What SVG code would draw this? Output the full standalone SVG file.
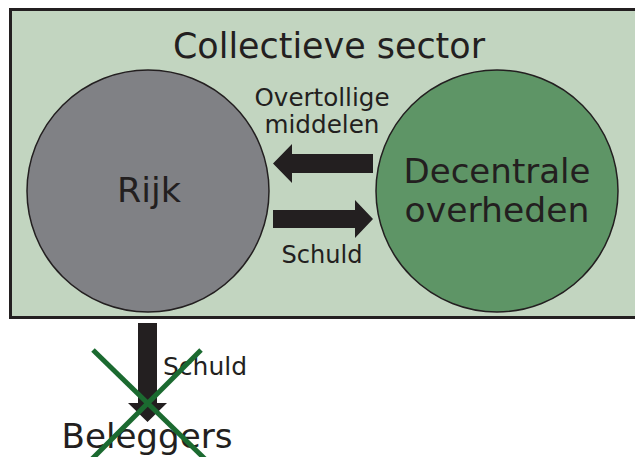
<svg xmlns="http://www.w3.org/2000/svg" width="635" height="457" viewBox="0 0 635 457">
<style>
text{font-family:"DejaVu Sans","Liberation Sans",sans-serif;fill:#231f20}
.big{font-size:34px}
.lbl{font-size:24px}
.circ{stroke:#231f20;stroke-width:1.5}
.arrow{fill:#231f20}
.x{stroke:#1b6a30;stroke-width:5;stroke-linecap:butt}
</style>
<g id="sector">
<rect x="10.5" y="9.5" width="640" height="308" fill="#c2d5c0" stroke="#231f20" stroke-width="3"/>
<text x="329" y="58" font-size="35" text-anchor="middle" textLength="312" lengthAdjust="spacingAndGlyphs">Collectieve sector</text>
</g>
<g id="rijk">
<circle class="circ" cx="148" cy="191" r="121" fill="#808185"/>
<text class="big" x="149" y="202" text-anchor="middle" textLength="64" lengthAdjust="spacingAndGlyphs">Rijk</text>
</g>
<g id="decentrale">
<circle class="circ" cx="497" cy="191" r="121" fill="#5e9566"/>
<text class="big" x="497" y="183" text-anchor="middle" textLength="187" lengthAdjust="spacingAndGlyphs">Decentrale</text>
<text class="big" x="497" y="222" text-anchor="middle" textLength="185" lengthAdjust="spacingAndGlyphs">overheden</text>
</g>
<g id="beleggers">
<text class="big" x="147" y="448" text-anchor="middle" textLength="171" lengthAdjust="spacingAndGlyphs">Beleggers</text>
</g>
<g id="connectors">
<polygon class="arrow" points="373,154 292,154 292,144 273,163.5 292,183 292,173 373,173"/>
<text class="lbl" x="322" y="106" text-anchor="middle" textLength="135" lengthAdjust="spacingAndGlyphs">Overtollige</text>
<text class="lbl" x="322" y="133" text-anchor="middle" textLength="115" lengthAdjust="spacingAndGlyphs">middelen</text>
<polygon class="arrow" points="273,210 355,210 355,200 373,219 355,238 355,228 273,228"/>
<text class="lbl" x="322" y="263" text-anchor="middle" textLength="81" lengthAdjust="spacingAndGlyphs">Schuld</text>
<polygon class="arrow" points="138,323 157,323 157,403 167,403 147.5,422 128,403 138,403"/>
<text class="lbl" x="163" y="375" textLength="84" lengthAdjust="spacingAndGlyphs">Schuld</text>
<line class="x" x1="93" y1="350" x2="206" y2="460"/>
<line class="x" x1="201" y1="350" x2="91" y2="460"/>
</g>
</svg>
